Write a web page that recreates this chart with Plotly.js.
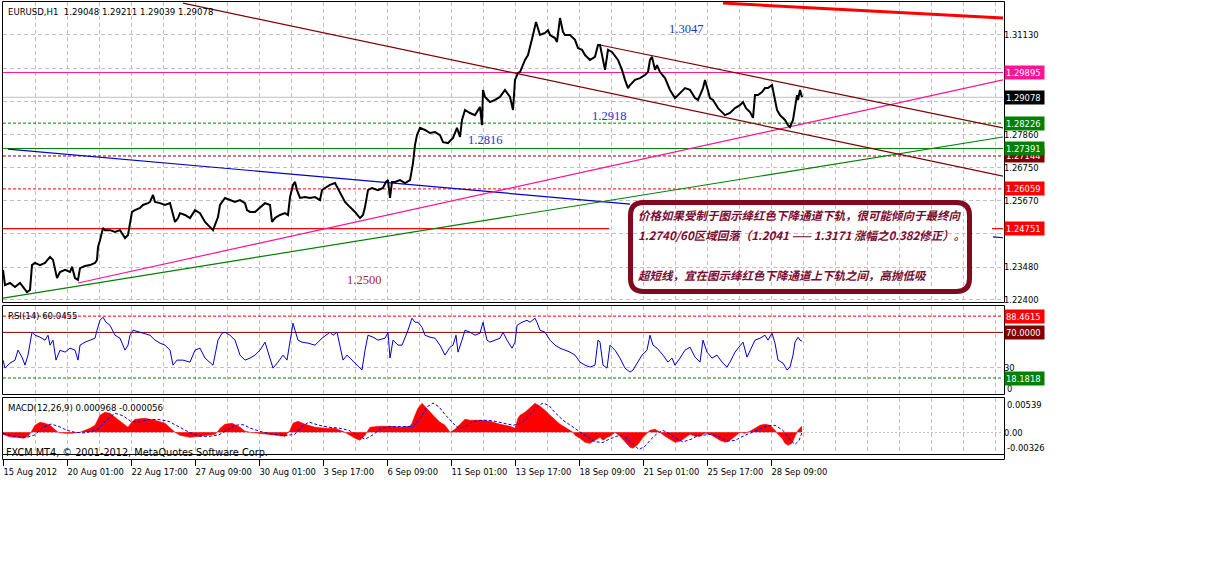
<!DOCTYPE html>
<html><head><meta charset="utf-8">
<script src="https://cdn.plot.ly/plotly-3.0.1.min.js"></script>
<style>html,body{margin:0;padding:0;background:#fff;}#chart{width:1209px;height:584px;}</style>
</head><body><div id="chart"></div>
<script>
// ---------------- DATA (bar index = hourly bar number) ----------------
const priceIdx = [
0,2,7,12,17,22,24,27,29,32,
37,42,47,50,52,54,57,62,67,69,
72,75,77,82,87,92,94,95,97,100,
102,107,112,117,122,125,129,132,137,140,
145,147,150,152,157,162,167,169,172,175,
177,182,187,192,197,202,207,210,215,217,
222,227,232,237,242,244,247,252,257,262,
267,269,272,277,282,285,287,290,292,294,
297,302,307,312,317,319,322,327,332,337,
342,347,352,357,360,362,365,369,375,380,
383,385,387,389,392,397,402,407,410,412,
414,417,422,427,432,437,440,445,450,454,
457,459,462,467,472,477,479,480,482,487,
492,497,502,507,510,512,515,517,522,525,
527,530,533,537,542,545,547,552,554,557,
560,562,567,572,575,579,582,587,592,595,
597,600,602,605,609,615,619,622,625,627,
632,637,642,645,647,649,652,654,657,662,
665,667,672,677,682,687,692,695,697,700,
702,705,707,710,715,719,722,727,732,737,
740,743,747,750,752,755,759,762,765,769,
772,774,777,782,785,787,790,792,794,795,
797,799];
const priceClose = [
1.2339,1.2289,1.2296,1.2283,1.2296,1.2273,1.2266,1.2273,1.2355,1.2362,
1.2355,1.2362,1.2382,1.2372,1.2345,1.2312,1.2332,1.2339,1.2332,1.2349,
1.2312,1.2306,1.2345,1.2352,1.2355,1.2362,1.2372,1.2414,1.2437,1.2477,
1.2470,1.2470,1.2464,1.2470,1.2444,1.2454,1.2530,1.2536,1.2543,1.2553,
1.2559,1.2563,1.2586,1.2563,1.2559,1.2553,1.2559,1.2536,1.2497,1.2510,
1.2526,1.2520,1.2510,1.2536,1.2526,1.2497,1.2480,1.2470,1.2513,1.2553,
1.2576,1.2569,1.2563,1.2569,1.2559,1.2536,1.2530,1.2530,1.2546,1.2559,
1.2553,1.2497,1.2510,1.2520,1.2526,1.2520,1.2579,1.2619,1.2629,1.2602,
1.2576,1.2579,1.2576,1.2579,1.2569,1.2602,1.2609,1.2619,1.2625,1.2592,
1.2563,1.2546,1.2530,1.2510,1.2520,1.2546,1.2602,1.2609,1.2602,1.2609,
1.2629,1.2635,1.2576,1.2629,1.2629,1.2635,1.2625,1.2635,1.2691,1.2751,
1.2783,1.2807,1.2800,1.2790,1.2793,1.2783,1.2760,1.2757,1.2774,1.2807,
1.2777,1.2833,1.2866,1.2856,1.2849,1.2876,1.2816,1.2932,1.2909,1.2892,
1.2899,1.2909,1.2932,1.2909,1.2866,1.2965,1.2988,1.2991,1.3031,1.3047,
1.3070,1.3113,1.3156,1.3113,1.3120,1.3129,1.3113,1.3103,1.3090,1.3169,
1.3123,1.3113,1.3113,1.3097,1.3070,1.3064,1.3047,1.3031,1.3041,1.3080,
1.3080,1.3024,1.2998,1.3064,1.3057,1.3031,1.2998,1.2965,1.2938,1.2948,
1.2965,1.2971,1.2981,1.2991,1.3031,1.3041,1.2998,1.3014,1.2991,1.2971,
1.2948,1.2932,1.2905,1.2922,1.2938,1.2932,1.2905,1.2899,1.2915,1.2938,
1.2965,1.2932,1.2905,1.2899,1.2872,1.2859,1.2849,1.2856,1.2872,1.2882,
1.2892,1.2872,1.2859,1.2840,1.2915,1.2915,1.2925,1.2938,1.2938,1.2948,
1.2899,1.2866,1.2849,1.2833,1.2816,1.2810,1.2833,1.2882,1.2915,1.2899,
1.2932,1.2908];

const rsiIdx = [
0,2,7,12,15,19,22,25,29,32,
37,42,45,47,50,53,57,62,67,72,
75,77,82,87,92,94,97,100,103,107,
112,117,122,125,127,130,137,142,147,152,
157,162,167,170,174,180,187,192,197,202,
207,210,215,219,222,227,232,237,242,247,
252,257,262,267,270,275,280,284,287,290,
292,295,299,305,312,319,327,330,334,337,
340,344,347,352,355,359,362,365,370,375,
382,385,387,390,395,399,405,409,412,415,
419,422,427,432,437,442,447,450,453,455,
459,462,467,472,477,480,484,487,492,497,
500,504,509,512,514,519,524,527,532,534,
537,542,547,552,557,562,567,572,577,582,
587,592,595,597,600,604,607,612,617,622,
627,630,634,639,644,647,650,654,660,665,
669,672,677,682,687,692,697,700,704,709,
714,719,724,727,732,737,740,744,747,752,
757,762,765,769,772,775,780,784,787,790,
792,795,797,799];
const rsiValue = [
38.5,29.4,35.1,38.5,49.8,41.9,32.8,44.2,70.2,66.8,
64.6,61.2,66.8,55.5,61.2,38.5,49.8,47.6,52.1,49.8,
38.5,55.5,58.9,61.2,63.4,72.5,83.8,87.2,81.5,78.1,
66.8,63.4,49.8,55.5,66.8,72.5,70.2,69.1,66.8,61.2,
57.8,55.5,49.8,32.8,38.5,38.5,36.2,49.8,52.1,40.8,
35.1,32.8,61.2,69.1,70.2,66.8,61.2,44.2,38.5,40.8,
44.2,49.8,58.9,40.8,29.4,36.2,44.2,38.5,61.2,80.4,
72.5,61.2,58.9,57.8,55.5,63.4,70.2,66.8,70.2,55.5,
38.5,44.2,40.8,36.2,32.8,27.2,49.8,66.8,64.6,61.2,
63.4,70.2,40.8,61.2,55.5,55.5,72.5,86.1,81.5,81.5,
75.8,66.8,64.6,63.4,55.5,44.2,53.2,55.5,66.8,47.6,
61.2,72.5,70.2,66.8,69.1,81.5,61.2,58.9,61.2,63.4,
70.2,61.2,52.1,58.9,78.1,81.5,83.8,81.5,86.1,81.5,
72.5,70.2,61.2,55.5,52.1,49.8,47.6,44.2,36.2,32.8,
30.6,32.8,61.2,58.9,32.8,29.4,55.5,49.8,40.8,29.4,
24.9,27.2,35.1,44.2,49.8,66.8,55.5,52.1,44.2,36.2,
40.8,32.8,40.8,49.8,53.2,41.9,36.2,61.2,47.6,40.8,
44.2,36.2,30.6,36.2,47.6,55.5,58.9,41.9,49.8,61.2,
63.4,66.8,61.2,69.1,57.8,38.5,35.1,27.2,30.6,44.2,
58.9,64.6,61.2,60.0455];

const macdIdx = [
0,5,10,15,20,25,28,32,37,42,
47,52,55,62,69,77,82,87,92,97,
102,107,112,117,122,125,128,132,142,152,
162,169,172,177,187,197,207,212,215,217,
222,229,237,242,247,257,272,282,287,290,
295,302,312,322,332,337,342,347,352,357,
362,367,377,387,397,407,409,412,415,419,
422,427,432,437,442,447,452,457,462,467,
477,487,497,507,512,515,517,522,527,532,
537,542,547,552,557,562,567,570,572,577,
582,587,592,597,600,604,607,612,617,622,
627,630,635,640,644,647,652,657,662,667,
672,677,682,687,692,697,702,707,712,717,
722,727,732,737,742,747,752,757,762,767,
772,775,779,782,785,789,792,795,799];
const macdMain = [
-0.00031,-0.00063,-0.00079,-0.00079,-0.00094,-0.00063,0,0.00110,0.00157,0.00142,
0.00110,0.00031,0,-0.00016,-0.00016,0,0.00031,0.00063,0.00110,0.00267,
0.00315,0.00299,0.00236,0.00173,0.00110,0.00079,0.00142,0.00204,0.00220,0.00189,
0.00142,0.00031,0,-0.00047,-0.00079,-0.00063,-0.00047,-0.00031,0.00016,0.00063,
0.00126,0.00142,0.00079,0.00016,0,-0.00016,-0.00047,-0.00063,0.00031,0.00142,
0.00173,0.00126,0.00079,0.00063,0.00063,0.00031,0,-0.00047,-0.00094,-0.00126,
-0.00047,0.00079,0.00094,0.00094,0.00079,0.00094,0.00142,0.00267,0.00378,0.00456,
0.00409,0.00315,0.00236,0.00157,0.00110,0,0.00047,0.00126,0.00204,0.00189,
0.00189,0.00173,0.00126,0.00094,0.00063,0.00220,0.00267,0.00315,0.00378,0.00456,
0.00409,0.00346,0.00267,0.00189,0.00126,0.00079,0.00031,0,-0.00047,-0.00094,
-0.00157,-0.00173,-0.00126,-0.00079,-0.00126,-0.00079,-0.00063,0,-0.00063,-0.00157,
-0.00236,-0.00252,-0.00189,-0.00079,-0.00016,0.00031,0.00047,0,-0.00063,-0.00110,
-0.00157,-0.00142,-0.00079,-0.00031,-0.00063,-0.00063,-0.00016,-0.00031,-0.00079,-0.00126,
-0.00157,-0.00126,-0.00063,0,-0.00016,0.00016,0.00063,0.00110,0.00126,0.00110,
0.00031,-0.00031,-0.00094,-0.00173,-0.00204,-0.00173,-0.00063,0.00031,0.000968];

const signalIdx = [
0,8,16,24,32,40,48,56,64,72,
80,88,96,104,112,120,128,136,146,156,
166,176,186,196,206,216,224,232,240,248,
258,270,282,292,298,306,316,326,336,346,
354,362,370,378,388,400,410,418,424,430,
436,442,450,456,462,470,480,490,500,510,
518,526,534,540,546,552,560,568,576,584,
592,600,606,614,620,628,636,642,648,654,
660,666,672,680,688,694,700,708,716,724,
732,740,748,756,764,772,780,786,792,796,
799];
const signalValue = [
-0.0002,-0.00055,-0.00075,-0.0008,-0.0004,0.0008,0.0013,0.0009,0.0003,0.0,
-0.0001,0.0001,0.0006,0.0020,0.0030,0.0026,0.0017,0.0016,0.0020,0.0020,
0.0017,0.0009,0.0,-0.0006,-0.00065,-0.0004,0.0004,0.0011,0.0012,0.0006,
0.0001,-0.0003,-0.00055,-0.0003,0.0008,0.0016,0.0011,0.0008,0.00065,0.0003,
-0.0004,-0.0011,-0.0004,0.0006,0.0009,0.0009,0.0009,0.0024,0.0040,0.0046,
0.0040,0.0028,0.0014,0.0006,0.0009,0.0017,0.0019,0.0018,0.0015,0.0011,
0.0014,0.0026,0.0040,0.0046,0.0042,0.0031,0.0019,0.0010,0.0002,-0.0007,
-0.0015,-0.0016,-0.0011,-0.0006,-0.0005,-0.0016,-0.0027,-0.0022,-0.0011,-0.0002,
0.0003,-0.0002,-0.0009,-0.0015,-0.0011,-0.0006,-0.0005,-0.0003,-0.0007,-0.0014,
-0.0013,-0.0006,-0.0001,0.0004,0.0010,0.0011,0.0003,-0.0010,-0.0019,-0.0013,
-0.000056];

// trend lines (bar index, price)
const channelUpperIdx = [597, 1000], channelUpperPrice = [1.3080, 1.2807];
const channelLowerIdx = [180, 1000], channelLowerPrice = [1.3218, 1.2648];
const redTopIdx = [720, 1000], redTopPrice = [1.3218, 1.3169];
const pinkTrendIdx = [75, 1000], pinkTrendPrice = [1.2296, 1.2965];
const greenTrendIdx = [0, 1000], greenTrendPrice = [1.2246, 1.2777];
const blueTrendIdx = [5, 627, null, 990, 1000], blueTrendPrice = [1.2737, 1.2556, null, 1.2448, 1.2445];
const supportIdx = [0, 606, null, 989, 1000], supportPrice = 1.24751;

// horizontal levels
const levelPrices = [1.29895, 1.29078, 1.28226, 1.27391, 1.27144, 1.26059];
const rsiLevels = [88.4615, 70, 18.1818];
const macdTop = 0.00539, macdBottom = -0.00326;

// axis labels (labels hidden under the coloured price boxes are left blank)
const priceTicks = [1.3113, 1.3004, 1.2895, 1.2786, 1.2675, 1.2567, 1.2458, 1.2348, 1.2240];
const priceTickText = ['1.31130','','','1.27860','1.26750','1.25670','','1.23480','1.22400'];
const timeTickIdx = [0,64,128,192,256,320,384,448,512,576,640,704,768];
const timeTickText = ['15 Aug 2012','20 Aug 01:00','22 Aug 17:00','27 Aug 09:00','30 Aug 01:00','3 Sep 17:00','6 Sep 09:00','11 Sep 01:00','13 Sep 17:00','18 Sep 09:00','21 Sep 01:00','25 Sep 17:00','28 Sep 09:00'];
const lastBar = {open:'1.29048', high:'1.29211', low:'1.29039', close:'1.29078'};
const rsiLast = '60.0455', macdLast = '0.000968', signalLast = '-0.000056';
const noteLabels = ['1.3047','1.2918','1.2816','1.2500'];
const noteText = [
 '价格如果受制于图示绛红色下降通道下轨，很可能倾向于最终向',
 '1.2740/60区域回落（1.2041 —— 1.3171 涨幅之0.382修正）。',
 '超短线，宜在图示绛红色下降通道上下轨之间，高抛低吸'];

// ---------------- LAYOUT HELPERS ----------------
const W = 1209, H = 584;
const px = x => x / W;
const py = y => 1 - y / H;
const FONT = "Tahoma, 'DejaVu Sans Condensed', 'DejaVu Sans', sans-serif";
const GRID = '#c6bcc6';
const GDASH = '4px,3px';
const DASH = '3px,2px';
const MAROON = '#800000', PINK = '#FF1493', GREEN = '#008000', RED = '#FF0000';

const traces = [];
function addLine(x, y, yaxis, color, width, dash) {
  traces.push({type:'scatter', mode:'lines', x:x, y:y, xaxis:'x', yaxis:yaxis,
    line:{color:color, width:width, dash:dash || 'solid'}, connectgaps:false, hoverinfo:'skip'});
}
const full = [0, 1000];

// main panel lines
const levelColors = [PINK, '#C0C0C0', GREEN, GREEN, MAROON, RED];
const levelDash = ['solid','solid',DASH,'solid',DASH,DASH];
levelPrices.forEach((p, i) => addLine(full, [p, p], 'y', levelColors[i], 1, levelDash[i]));
addLine(supportIdx, supportIdx.map(v => v === null ? null : supportPrice), 'y', RED, 1.2);
addLine(blueTrendIdx, blueTrendPrice, 'y', '#0000C8', 1.2);
addLine(greenTrendIdx, greenTrendPrice, 'y', GREEN, 1.2);
addLine(pinkTrendIdx, pinkTrendPrice, 'y', PINK, 1.2);
addLine(channelLowerIdx, channelLowerPrice, 'y', MAROON, 1.2);
addLine(channelUpperIdx, channelUpperPrice, 'y', MAROON, 1.2);
addLine(redTopIdx, redTopPrice, 'y', RED, 3);
addLine(priceIdx, priceClose, 'y', '#000000', 2);

// RSI
const rsiColors = [RED, MAROON, GREEN], rsiDash = [DASH, 'solid', DASH];
rsiLevels.forEach((v, i) => addLine(full, [v, v], 'y2', rsiColors[i], 1, rsiDash[i]));
addLine(rsiIdx, rsiValue, 'y2', '#0000CC', 1);

// MACD
traces.push({type:'scatter', mode:'lines', x:macdIdx, y:macdMain, xaxis:'x', yaxis:'y3',
  fill:'tozeroy', fillcolor:RED, line:{color:RED, width:0.6}, hoverinfo:'skip'});
addLine(signalIdx, signalValue, 'y3', '#0000FF', 1, DASH);

// ---------------- ANNOTATIONS ----------------
const ann = [];
function txt(x, y, text, size, color, extra) {
  ann.push(Object.assign({xref:'paper', yref:'paper', x:px(x), y:py(y), text:text, showarrow:false,
    xanchor:'left', yanchor:'middle', font:{family:FONT, size:size, color:color}}, extra || {}));
}
txt(6, 11, 'EURUSD,H1  ' + [lastBar.open, lastBar.high, lastBar.low, lastBar.close].join(' '), 9.5, '#000');
txt(6, 315, 'RSI(14) ' + rsiLast, 9.5, '#000');
txt(6, 407, 'MACD(12,26,9) ' + macdLast + ' ' + signalLast, 9.5, '#000');
txt(4, 452, 'FXCM MT4, © 2001-2012, MetaQuotes Software Corp.', 10.8, '#000');
txt(1005, 388, '0', 9.3, '#000');
txt(1005, 404, macdTop.toFixed(5), 9.3, '#000');
txt(1005, 447, macdBottom.toFixed(5), 9.3, '#000');

// blue / brown price notes
const serif = "'Liberation Serif', 'Times New Roman', serif";
const notePos = [[686, 29], [609, 116], [485, 140], [364, 280]];
const noteCol = ['#2233CC', '#2233CC', '#2233CC', '#A52A2A'];
noteLabels.forEach((t, i) => ann.push({xref:'paper', yref:'paper', x:px(notePos[i][0]), y:py(notePos[i][1]),
  text:t, showarrow:false, xanchor:'center', yanchor:'middle', font:{family:serif, size:12.5, color:noteCol[i]}}));

// Chinese comment lines
const noteY = [215, 235, 275];
noteText.forEach((t, i) => ann.push({xref:'paper', yref:'paper', x:px(636), y:py(noteY[i]),
  text:'<b><i>' + t + '</i></b>', showarrow:false, xanchor:'left', yanchor:'middle',
  font:{family:"'Noto Sans CJK SC', sans-serif", size:11.5, color:'#7B0B2E'}}));

// coloured price boxes on the right axis
function box(yref, val, label, bg) {
  ann.push({xref:'paper', yref:yref, x:px(1004), y:val, text:label, showarrow:false,
    xanchor:'left', yanchor:'middle', align:'left', width:37, height:11, borderpad:1,
    bgcolor:bg, font:{family:FONT, size:9.3, color:'#FFFFFF'}});
}
const boxColors = [PINK, '#000000', GREEN, GREEN, MAROON, RED];
const boxOrder = [0, 1, 2, 4, 3, 5];
boxOrder.forEach(i => box('y', levelPrices[i], levelPrices[i].toFixed(5), boxColors[i]));
box('y', supportPrice, supportPrice.toFixed(5), RED);
box('y2', rsiLevels[0], rsiLevels[0].toFixed(4), RED);
box('y2', rsiLevels[1], rsiLevels[1].toFixed(4), MAROON);
box('y2', rsiLevels[2], rsiLevels[2].toFixed(4), GREEN);

// ---------------- SHAPES (frames, comment box) ----------------
const shapes = [];
function frame(x0, y0, x1, y1) {
  shapes.push({type:'rect', xref:'paper', yref:'paper', x0:px(x0), x1:px(x1), y0:py(y0), y1:py(y1),
    line:{color:'#000', width:1}, fillcolor:'rgba(0,0,0,0)', layer:'above'});
}
frame(2.5, 1.5, 1004.5, 302.5);
frame(2.5, 305.5, 1004.5, 394.5);
frame(2.5, 397.5, 1004.5, 454.5);
frame(2.5, 454.5, 1004.5, 459.5);
function rr(x0, y0, x1, y1, r) {
  const X = v => px(v).toFixed(6), Y = v => py(v).toFixed(6);
  return 'M' + X(x0 + r) + ',' + Y(y0) + ' L' + X(x1 - r) + ',' + Y(y0) +
    ' Q' + X(x1) + ',' + Y(y0) + ' ' + X(x1) + ',' + Y(y0 + r) +
    ' L' + X(x1) + ',' + Y(y1 - r) + ' Q' + X(x1) + ',' + Y(y1) + ' ' + X(x1 - r) + ',' + Y(y1) +
    ' L' + X(x0 + r) + ',' + Y(y1) + ' Q' + X(x0) + ',' + Y(y1) + ' ' + X(x0) + ',' + Y(y1 - r) +
    ' L' + X(x0) + ',' + Y(y0 + r) + ' Q' + X(x0) + ',' + Y(y0) + ' ' + X(x0 + r) + ',' + Y(y0) + ' Z';
}
shapes.push({type:'path', xref:'paper', yref:'paper', path:rr(630.5, 202.5, 969.5, 291.5, 13),
  line:{color:'#800A20', width:5}, fillcolor:'rgba(0,0,0,0)', layer:'above'});

// ---------------- AXES ----------------
const tickFont = {family:FONT, size:9.3, color:'#000'};
const layout = {
  width:W, height:H, autosize:false, showlegend:false,
  margin:{l:0, r:0, t:0, b:0, pad:0},
  paper_bgcolor:'#FFFFFF', plot_bgcolor:'rgba(0,0,0,0)',
  xaxis:{domain:[px(3), px(1003)], range:[0, 1000], anchor:'free', position:py(459),
    tickmode:'array', tickvals:timeTickIdx, ticktext:timeTickText, tickangle:0,
    ticks:'outside', ticklen:6, tickwidth:1, tickcolor:'#000', ticklabelposition:'outside right',
    ticklabelstandoff:4,
    tickfont:tickFont, showgrid:true, gridcolor:GRID, griddash:GDASH, gridwidth:1,
    minor:{tickmode:'linear', tick0:0, dtick:32, showgrid:true, gridcolor:GRID, griddash:GDASH, gridwidth:1, ticks:''},
    showline:false, zeroline:false, fixedrange:true},
  yaxis:{domain:[py(302), py(2)], range:[1.22333, 1.32217], side:'right', anchor:'x',
    tickmode:'array', tickvals:priceTicks, ticktext:priceTickText, ticks:'', tickfont:tickFont,
    showgrid:true, gridcolor:GRID, griddash:GDASH, zeroline:false, showline:false, fixedrange:true},
  yaxis2:{domain:[py(394), py(306)], range:[0, 100], side:'right', anchor:'x',
    tickmode:'array', tickvals:[30], ticktext:['30'], ticks:'', tickfont:tickFont,
    showgrid:true, gridcolor:GRID, griddash:GDASH, zeroline:false, showline:false, fixedrange:true},
  yaxis3:{domain:[py(453), py(398)], range:[macdBottom, macdTop], side:'right', anchor:'x',
    tickmode:'array', tickvals:[0], ticktext:['0.00'], ticks:'', tickfont:tickFont,
    showgrid:true, gridcolor:GRID, griddash:'2px,2px', zeroline:false, showline:false, fixedrange:true},
  annotations:ann, shapes:shapes
};
Plotly.newPlot('chart', traces, layout, {displayModeBar:false, staticPlot:true});
</script></body></html>
